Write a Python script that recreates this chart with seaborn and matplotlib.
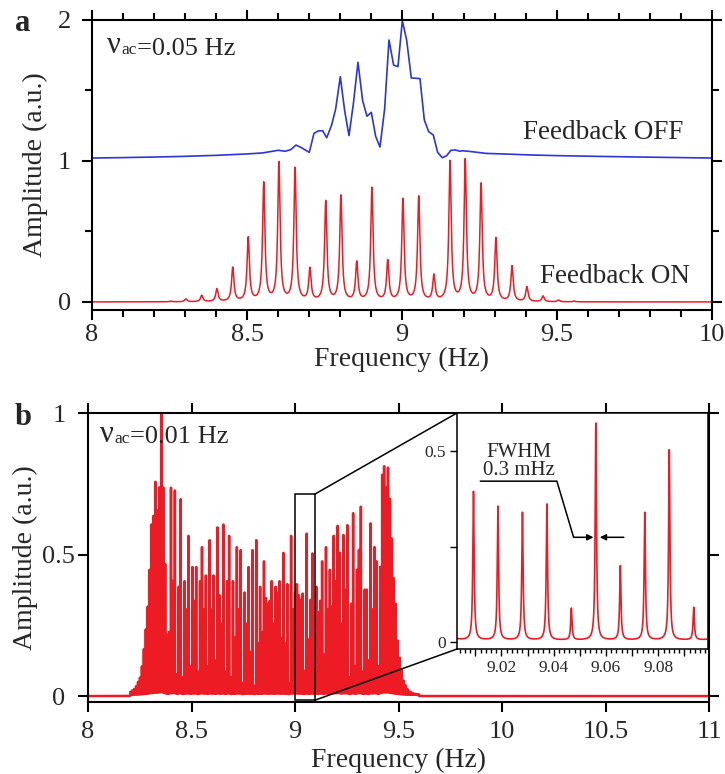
import numpy as np
import pandas as pd
import matplotlib
matplotlib.use("Agg")
import matplotlib.pyplot as plt
import seaborn as sns
from matplotlib.patches import ConnectionPatch, Rectangle
from matplotlib.ticker import MultipleLocator, FixedLocator, FuncFormatter

# ---------------- Data ----------------
# Panel a, feedback OFF (blue trace)
A_OFF_FREQ = [8.0, 8.1, 8.2, 8.3, 8.4, 8.5, 8.55, 8.574, 8.601, 8.623, 8.641, 8.658,
              8.676, 8.701, 8.716, 8.730, 8.744, 8.757, 8.773, 8.786, 8.801, 8.815,
              8.829, 8.843, 8.858, 8.873, 8.887, 8.901, 8.915, 8.929, 8.944, 8.958,
              8.973, 8.987, 9.001, 9.015, 9.030, 9.044, 9.058, 9.072, 9.086, 9.101,
              9.115, 9.130, 9.144, 9.158, 9.172, 9.187, 9.194, 9.23, 9.27, 9.35,
              9.41, 9.5, 9.624, 9.8, 10.0]
A_OFF_AMP = [1.021, 1.024, 1.028, 1.033, 1.040, 1.050, 1.057, 1.066, 1.076, 1.069,
             1.080, 1.113, 1.094, 1.061, 1.196, 1.213, 1.215, 1.165, 1.255, 1.369,
             1.598, 1.357, 1.180, 1.404, 1.700, 1.428, 1.317, 1.345, 1.175, 1.099,
             1.369, 1.858, 1.680, 1.669, 1.995, 1.858, 1.589, 1.587, 1.584, 1.291,
             1.208, 1.184, 1.061, 1.023, 1.038, 1.076, 1.078, 1.069, 1.073, 1.065,
             1.054, 1.048, 1.043, 1.038, 1.033, 1.027, 1.021]

# Panel a, feedback ON (red comb): line centres and heights
A_ON_PEAK_FREQ = [8.254, 8.303, 8.354, 8.403, 8.454, 8.504, 8.554, 8.603, 8.655,
                  8.703, 8.754, 8.803, 8.854, 8.903, 8.954, 9.003, 9.054, 9.103,
                  9.155, 9.204, 9.255, 9.303, 9.355, 9.403, 9.455, 9.505, 9.555]
A_ON_PEAK_AMP = [0.005, 0.02, 0.045, 0.09, 0.24, 0.45, 0.837, 0.979, 0.941,
                 0.227, 0.707, 0.747, 0.274, 0.804, 0.284, 0.723, 0.740, 0.180,
                 0.990, 1.000, 0.830, 0.445, 0.250, 0.104, 0.040, 0.012, 0.005]
A_ON_HWHM = 0.0045

# Panel b: comb teeth (index k runs from B_K_FIRST), heights per tooth
B_COMB_REF = 9.0093
B_COMB_STEP = 0.00936
B_K_FIRST = -86
B_PEAK_AMP = [
    0.01, 0.015, 0.02, 0.03, 0.045, 0.06, 0.10, 0.16, 0.23, 0.31,
    0.44, 0.60, 0.63, 0.75, 0.65, 0.73, 1.00, 0.73, 0.46, 0.21,
    0.22, 0.73, 0.40, 0.72, 0.07, 0.38, 0.69, 0.06, 0.40, 0.30,
    0.56, 0.10, 0.45, 0.33, 0.45, 0.08, 0.40, 0.52, 0.30, 0.42,
    0.10, 0.545, 0.30, 0.42, 0.12, 0.59, 0.35, 0.25, 0.60, 0.08,
    0.40, 0.56, 0.06, 0.40, 0.20, 0.52, 0.30, 0.51, 0.04, 0.36,
    0.25, 0.45, 0.15, 0.51, 0.03, 0.545, 0.18, 0.38, 0.22, 0.47,
    0.34, 0.32, 0.33, 0.40, 0.25, 0.38, 0.36, 0.40, 0.20, 0.50,
    0.18, 0.39, 0.04, 0.56, 0.30, 0.36,
    0.389, 0.350, 0.334, 0.356, 0.083, 0.568, 0.194, 0.334, 0.498, 0.085,
    0.38, 0.29, 0.33, 0.47, 0.14, 0.52, 0.30, 0.44, 0.31, 0.56,
    0.40, 0.595, 0.50, 0.25, 0.563, 0.37, 0.598, 0.06, 0.32, 0.64,
    0.10, 0.44, 0.51, 0.663, 0.08, 0.37, 0.37, 0.12, 0.604, 0.30,
    0.52, 0.47, 0.10, 0.45, 0.775, 0.805, 0.73, 0.80, 0.69, 0.55,
    0.41, 0.32, 0.19, 0.13, 0.09, 0.05, 0.033, 0.02, 0.012, 0.008,
    0.005, 0.003, 0.002, 0.001]
B_HWHM = 0.0003
B_FLOOR = 0.005

RED = "#ed1c24"
BLUE = "#2b35d8"


def lorentz_sum(f, centres, amps, hwhm):
    f = np.asarray(f)[:, None]
    c = np.asarray(centres)[None, :]
    a = np.asarray(amps)[None, :]
    return (a * hwhm ** 2 / ((f - c) ** 2 + hwhm ** 2)).sum(axis=1)


def style_axis(ax, lw=1.5):
    for s in ax.spines.values():
        s.set_visible(True)
        s.set_color("black")
        s.set_linewidth(lw)


def nu_label(ax, x, y, value):
    # large nu, small "ac" on the same baseline, then the value
    t1 = ax.text(x, y, "ν", transform=ax.transAxes, fontsize=22, va="baseline")
    t2 = ax.annotate("ac", xy=(1, 0), xycoords=t1, xytext=(0.5, 1.6),
                     textcoords="offset points", fontsize=12.5, va="bottom")
    ax.annotate("=" + value, xy=(1, 0), xycoords=t2, xytext=(0, -1.2),
                textcoords="offset points", fontsize=19, va="bottom")


def main():
    sns.set_theme(style="ticks")
    plt.rcParams["font.family"] = ["Liberation Serif", "DejaVu Serif"]

    fig = plt.figure(figsize=(7.25, 7.74), dpi=100)
    W, H = 725.0, 774.0
    ax_a = fig.add_axes([92 / W, 1 - 310 / H, 620 / W, 290 / H])
    ax_b = fig.add_axes([88 / W, 1 - 702 / H, 621 / W, 289 / H])
    ax_in = fig.add_axes([457 / W, 1 - 649 / H, 251 / W, 236 / H])

    # ---------- panel a ----------
    fa = np.union1d(np.arange(8.0, 10.0005, 0.001), A_ON_PEAK_FREQ)
    df_on = pd.DataFrame({"Frequency": fa,
                          "Amplitude": lorentz_sum(fa, A_ON_PEAK_FREQ, A_ON_PEAK_AMP, A_ON_HWHM)})
    df_off = pd.DataFrame({"Frequency": A_OFF_FREQ, "Amplitude": A_OFF_AMP})
    sns.lineplot(data=df_on, x="Frequency", y="Amplitude", ax=ax_a, color=RED,
                 lw=1.1, estimator=None, sort=False)
    sns.lineplot(data=df_off, x="Frequency", y="Amplitude", ax=ax_a, color=BLUE,
                 lw=1.2, estimator=None, sort=False)
    ax_a.set_xlim(8, 10)
    ax_a.set_ylim(-0.057, 2.0)
    ax_a.xaxis.set_major_locator(MultipleLocator(0.5))
    ax_a.xaxis.set_minor_locator(MultipleLocator(0.1))
    ax_a.yaxis.set_major_locator(MultipleLocator(1))
    ax_a.yaxis.set_minor_locator(MultipleLocator(0.5))
    ax_a.xaxis.set_major_formatter(FuncFormatter(lambda v, p: f"{v:g}"))
    ax_a.yaxis.set_major_formatter(FuncFormatter(lambda v, p: f"{v:g}"))
    ax_a.tick_params(which="both", direction="out", top=True, right=True,
                     width=1.5, color="black", labelsize=19)
    ax_a.tick_params(which="major", length=7)
    ax_a.tick_params(which="minor", length=5)
    ax_a.tick_params(axis="x", pad=3)
    ax_a.tick_params(axis="y", pad=13)
    for t in ax_a.get_yticklabels():
        t.set_horizontalalignment("center")
    ax_a.set_xlabel("Frequency (Hz)", fontsize=20, labelpad=1)
    ax_a.set_ylabel("Amplitude (a.u.)", fontsize=20, labelpad=7)
    style_axis(ax_a)
    ax_a.text(9.39, 1.156, "Feedback OFF", fontsize=19.5, va="baseline")
    ax_a.text(9.444, 0.137, "Feedback ON", fontsize=19.5, va="baseline")
    nu_label(ax_a, 0.024, 0.886, "0.05 Hz")

    # ---------- panel b ----------
    k = np.arange(B_K_FIRST, B_K_FIRST + len(B_PEAK_AMP))
    centres = B_COMB_REF + B_COMB_STEP * k
    fb = np.union1d(np.arange(8.0, 11.00001, 0.00005), centres)
    amp_b = np.zeros_like(fb)
    for i0 in range(0, len(fb), 5000):
        amp_b[i0:i0 + 5000] = lorentz_sum(fb[i0:i0 + 5000], centres, B_PEAK_AMP, B_HWHM)
    inside = (fb > centres[0]) & (fb < centres[-1])
    amp_b = amp_b + B_FLOOR * inside
    df_b = pd.DataFrame({"Frequency": fb, "Amplitude": amp_b})

    sns.lineplot(data=df_b, x="Frequency", y="Amplitude", ax=ax_b, color=RED,
                 lw=1.8, estimator=None, sort=False)
    ax_b.set_xlim(8, 11)
    ax_b.set_ylim(-0.021, 1.0)
    ax_b.xaxis.set_major_locator(MultipleLocator(0.5))
    ax_b.yaxis.set_major_locator(MultipleLocator(0.5))
    ax_b.xaxis.set_major_formatter(FuncFormatter(lambda v, p: f"{v:g}"))
    ax_b.yaxis.set_major_formatter(FuncFormatter(lambda v, p: f"{v:g}"))
    ax_b.tick_params(which="both", direction="out", top=True, right=True,
                     width=1.5, length=7, color="black", labelsize=19)
    ax_b.tick_params(axis="x", pad=7)
    ax_b.tick_params(axis="y", pad=14)
    for t in ax_b.get_yticklabels():
        t.set_horizontalalignment("center")
    ax_b.set_xlabel("Frequency (Hz)", fontsize=20, labelpad=3)
    ax_b.set_ylabel("Amplitude (a.u.)", fontsize=20, labelpad=3)
    style_axis(ax_b)
    nu_label(ax_b, 0.019, 0.90, "0.01 Hz")

    # zoom box
    x0, x1 = 9.0, 9.095
    ax_b.add_patch(Rectangle((x0, -0.015), x1 - x0, 0.728, fill=False,
                             edgecolor="black", lw=1.1, zorder=5))

    # ---------- inset ----------
    m = (fb >= 9.0) & (fb <= 9.1)
    sns.lineplot(data=df_b[m], x="Frequency", y="Amplitude", ax=ax_in, color=RED,
                 lw=1.2, estimator=None, sort=False)
    ax_in.set_xlim(9.003, 9.099)
    ax_in.set_ylim(-0.018, 0.6)
    ax_in.set_xlabel("")
    ax_in.set_ylabel("")
    ax_in.xaxis.set_major_locator(MultipleLocator(0.01))
    ax_in.xaxis.set_minor_locator(MultipleLocator(0.002))
    ax_in.xaxis.set_major_formatter(FuncFormatter(
        lambda v, p: f"{v:.2f}" if int(round(v * 100)) % 2 == 0 else ""))
    ax_in.yaxis.set_major_locator(FixedLocator([0, 0.25, 0.5]))
    ax_in.yaxis.set_major_formatter(FuncFormatter(
        lambda v, p: "" if abs(v - 0.25) < 1e-6 else f"{v:g}"))
    ax_in.tick_params(which="both", direction="out", width=1.0, color="black",
                      labelsize=12.5, pad=3)
    ax_in.tick_params(which="major", length=5)
    ax_in.tick_params(which="minor", length=3)
    style_axis(ax_in, lw=1.1)
    ax_in.set_facecolor("white")

    ax_in.text(9.0265, 0.497, "FWHM", fontsize=15, ha="center", va="center")
    ax_in.text(9.0265, 0.45, "0.3 mHz", fontsize=15, ha="center", va="center")
    ax_in.plot([9.0119, 9.0412, 9.0476], [0.4215, 0.4215, 0.2745],
               color="black", lw=1.1)
    ax_in.annotate("", xy=(9.0552, 0.2745), xytext=(9.0476, 0.2745),
                   arrowprops=dict(arrowstyle="-|>", color="black", lw=1.1,
                                   mutation_scale=9, shrinkA=0, shrinkB=0))
    ax_in.annotate("", xy=(9.0576, 0.2745), xytext=(9.0668, 0.2745),
                   arrowprops=dict(arrowstyle="-|>", color="black", lw=1.1,
                                   mutation_scale=9, shrinkA=0, shrinkB=0))

    for ya, yb in [(0.713, 1), (-0.015, 0)]:
        con = ConnectionPatch(xyA=(x1, ya), coordsA=ax_b.transData,
                              xyB=(0, yb), coordsB=ax_in.transAxes,
                              color="black", lw=1.1)
        fig.add_artist(con)

    # panel letters
    fig.text(15 / W, 1 - 31 / H, "a", fontsize=22, fontweight="bold", va="baseline")
    fig.text(15 / W, 1 - 425 / H, "b", fontsize=22, fontweight="bold", va="baseline")

    fig.savefig("out.png", dpi=100)
    plt.close(fig)


if __name__ == "__main__":
    main()
